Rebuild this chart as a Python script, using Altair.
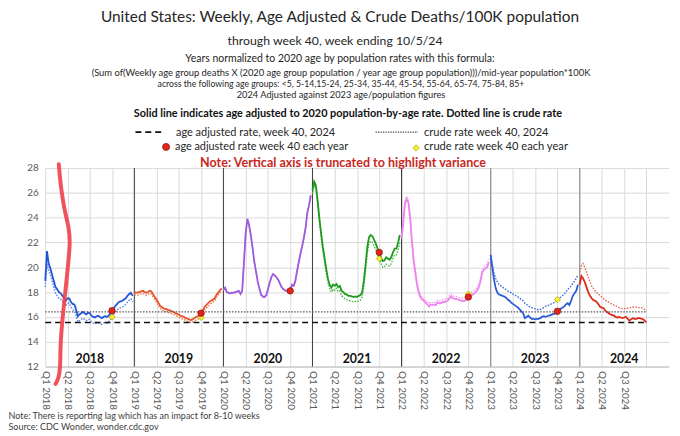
import altair as alt
import pandas as pd

FONT = "Lato"

years = [2018, 2019, 2020, 2021, 2022, 2023, 2024]
colors_adj = ["#1F56D8", "#E8542A", "#9D5BDB", "#1E9A1E", "#EE82EE", "#2A5BD7", "#DD2A1A"]
colors_crude = ["#5A82E6", "#EE7A55", "#B285E6", "#4DB84D", "#F2A0F2", "#3E6CE0", "#E86A5E"]

adj_2018 = [18.9, 21.3, 20.3, 19.9, 19.4, 18.9, 18.4, 18.2, 18.0, 17.9, 17.7, 17.5, 17.3, 17.5, 17.5, 17.2,
            17.05, 17.0, 16.6, 16.05, 16.2, 16.3, 16.4, 16.3, 16.2, 16.35, 16.3, 16.1, 16.0, 15.95, 16.05, 16.1,
            16.0, 15.9, 16.0, 16.05, 16.0, 16.1, 16.3, 16.5, 16.7, 16.9, 17.05, 17.2, 17.25, 17.3, 17.4, 17.5,
            17.7, 17.85, 17.95, 17.7]
crude_2018 = [18.4, 20.3, 19.7, 19.4, 18.9, 18.4, 17.9, 17.7, 17.5, 17.4, 17.3, 17.1, 16.9, 17.1, 17.1, 16.8,
              16.6, 16.5, 16.1, 15.6, 15.7, 15.8, 15.9, 15.8, 15.7, 15.8, 15.8, 15.6, 15.5, 15.45, 15.5, 15.55,
              15.45, 15.4, 15.5, 15.55, 15.5, 15.6, 15.8, 16.0, 16.2, 16.4, 16.55, 16.7, 16.75, 16.8, 16.9, 17.0,
              17.2, 17.35, 17.45, 17.2]
adj_2019 = [18.0, 17.95, 17.95, 18.0, 18.05, 18.1, 18.0, 17.95, 18.0, 18.1, 18.05, 17.8, 17.6, 17.4, 17.15, 16.9,
            16.8, 16.7, 16.65, 16.6, 16.55, 16.5, 16.45, 16.4, 16.3, 16.25, 16.2, 16.1, 16.05, 16.0, 15.9, 15.85,
            15.8, 15.75, 15.8, 15.9, 16.0, 16.05, 16.15, 16.3, 16.55, 16.8, 16.95, 17.1, 17.25, 17.3, 17.4, 17.5,
            17.8, 17.95, 18.15, 18.3]
crude_2019 = [17.8, 17.75, 17.75, 17.8, 17.85, 17.9, 17.8, 17.75, 17.8, 17.9, 17.85, 17.6, 17.4, 17.2, 16.95, 16.7,
              16.6, 16.5, 16.45, 16.4, 16.35, 16.3, 16.25, 16.2, 16.1, 16.05, 16.0, 15.9, 15.85, 15.8, 15.7, 15.65,
              15.6, 15.55, 15.6, 15.65, 15.75, 15.8, 15.9, 15.95, 16.3, 16.55, 16.7, 16.85, 17.0, 17.1, 17.2, 17.3,
              17.6, 17.75, 17.95, 18.1]
adj_2020 = [18.2, 18.35, 18.0, 17.95, 17.9, 17.95, 17.95, 18.0, 18.05, 18.1, 17.85, 18.1, 20.4, 22.7, 23.9, 23.4,
            22.6, 21.6, 20.5, 19.7, 18.9, 18.3, 17.8, 17.65, 17.6, 17.75, 18.2, 18.75, 19.2, 19.45, 19.35, 19.2,
            19.0, 18.7, 18.4, 18.25, 18.15, 18.1, 18.1, 18.1, 18.6, 18.5, 18.9, 19.7, 20.4, 21.1, 21.7, 22.4,
            23.2, 24.4, 25.0, 25.8]
crude_2020 = [18.15, 18.3, 17.95, 17.9, 17.85, 17.9, 17.9, 17.95, 18.0, 18.05, 17.8, 18.05, 20.35, 22.65, 23.85, 23.35,
              22.55, 21.55, 20.45, 19.65, 18.85, 18.25, 17.75, 17.6, 17.55, 17.7, 18.15, 18.7, 19.15, 19.4, 19.3, 19.15,
              18.95, 18.65, 18.35, 18.2, 18.1, 18.05, 18.05, 18.05, 18.55, 18.45, 18.85, 19.65, 20.35, 21.05, 21.65, 22.35,
              23.15, 24.35, 24.95, 25.75]
adj_2021 = [26.2, 26.9, 26.6, 25.4, 24.0, 22.8, 21.7, 20.8, 19.9, 19.1, 18.6, 18.35, 18.6, 18.5, 18.65, 18.4,
            18.5, 18.1, 18.0, 17.85, 17.8, 17.7, 17.7, 17.65, 17.6, 17.65, 17.6, 17.7, 17.75, 18.0, 18.9, 20.2,
            21.6, 22.4, 22.6, 22.5, 22.2, 21.9, 21.5, 21.2, 20.8, 20.5, 20.55, 20.8, 20.7, 20.6, 20.8, 21.2,
            21.5, 21.5, 22.0, 22.6]
crude_2021 = [25.9, 26.6, 26.3, 25.1, 23.7, 22.5, 21.4, 20.5, 19.6, 18.8, 18.3, 18.0, 18.25, 18.15, 18.3, 18.05,
              18.1, 17.7, 17.6, 17.45, 17.4, 17.3, 17.3, 17.25, 17.2, 17.25, 17.2, 17.3, 17.35, 17.6, 18.4, 19.7,
              21.1, 21.9, 22.1, 22.0, 21.7, 21.4, 21.0, 20.7, 20.3, 20.0, 20.0, 20.25, 20.15, 20.1, 20.3, 20.7,
              21.0, 21.0, 21.4, 22.0]
adj_2022 = [22.3, 23.6, 25.1, 25.5, 25.2, 24.0, 22.2, 20.6, 19.6, 18.6, 18.0, 17.6, 17.4, 17.3, 17.15, 17.0,
            16.85, 17.0, 16.95, 17.0, 16.95, 17.15, 17.1, 17.1, 17.2, 17.2, 17.25, 17.3, 17.5, 17.65, 17.5, 17.45,
            17.45, 17.4, 17.35, 17.3, 17.3, 17.3, 17.4, 17.6, 17.7, 17.75, 17.85, 17.95, 18.1, 18.35, 18.8, 19.5,
            19.8, 19.9, 20.0, 20.4]
crude_2022 = [22.4, 23.8, 25.3, 25.7, 25.4, 24.2, 22.4, 20.8, 19.8, 18.8, 18.2, 17.8, 17.6, 17.5, 17.35, 17.2,
              17.05, 17.2, 17.15, 17.2, 17.15, 17.35, 17.3, 17.3, 17.4, 17.4, 17.45, 17.5, 17.7, 17.85, 17.7, 17.65,
              17.65, 17.6, 17.55, 17.5, 17.5, 17.55, 17.65, 17.85, 17.95, 18.0, 18.1, 18.2, 18.35, 18.6, 19.05, 19.75,
              20.05, 20.15, 20.25, 20.65]
adj_2023 = [21.0, 20.0, 19.0, 18.3, 17.95, 17.8, 17.75, 17.7, 17.65, 17.55, 17.4, 17.3, 17.15, 17.05, 16.95, 16.85,
            16.75, 16.6, 16.45, 16.3, 15.9, 16.0, 16.1, 15.95, 15.85, 15.85, 15.8, 15.85, 15.85, 15.9, 16.0, 16.05,
            16.0, 16.05, 16.1, 16.15, 16.2, 16.25, 16.3, 16.45, 16.55, 16.65, 16.75, 16.85, 17.0, 17.1, 16.95, 17.3,
            17.7, 17.9, 18.1, 18.6]
crude_2023 = [21.0, 20.2, 19.5, 19.1, 18.8, 18.6, 18.5, 18.4, 18.3, 18.2, 18.1, 18.0, 17.95, 17.85, 17.75, 17.7,
              17.6, 17.5, 17.4, 17.3, 17.1, 17.0, 16.9, 16.8, 16.75, 16.7, 16.65, 16.6, 16.58, 16.6, 16.65, 16.75,
              16.85, 16.9, 16.95, 17.0, 17.1, 17.15, 17.2, 17.4, 17.5, 17.6, 17.7, 17.85, 18.0, 18.2, 18.35, 18.5,
              18.7, 18.9, 19.1, 19.4]
adj_2024 = [18.6, 19.3, 19.1, 18.8, 18.4, 18.0, 17.7, 17.5, 17.35, 17.3, 17.2, 17.0, 16.8, 16.75, 16.7, 16.5,
            16.4, 16.3, 16.2, 16.15, 16.1, 16.0, 15.95, 16.0, 15.95, 15.9, 15.95, 16.0, 15.85, 15.7, 15.8, 15.9,
            15.85, 15.85, 15.9, 15.9, 15.85, 15.8, 15.7, 15.55]
crude_2024 = [19.6, 20.1, 20.3, 20.0, 19.6, 19.2, 18.85, 18.5, 18.3, 18.1, 17.95, 17.85, 17.7, 17.6, 17.45, 17.35,
              17.25, 17.2, 17.1, 17.0, 16.95, 16.9, 16.8, 16.75, 16.7, 16.65, 16.65, 16.7, 16.7, 16.75, 16.75, 16.8,
              16.8, 16.8, 16.75, 16.75, 16.75, 16.7, 16.6, 16.45]

adj_series = [adj_2018, adj_2019, adj_2020, adj_2021, adj_2022, adj_2023, adj_2024]
crude_series = [crude_2018, crude_2019, crude_2020, crude_2021, crude_2022, crude_2023, crude_2024]

# week-40 markers
marker_years = [2018, 2019, 2020, 2021, 2022, 2023]
marker_adj = [16.5, 16.3, 18.1, 21.2, 17.6, 16.45]
marker_crude = [16.0, 15.95, 18.05, 20.7, 17.85, 17.4]

# reference lines (week 40, 2024)
ref_adj_2024 = 15.55
ref_crude_2024 = 16.4

# hand-drawn red annotation stroke (week index, value)
scribble_week = [7.9, 8.7, 10.2, 12.1, 13.6, 14.6, 13.6, 12.1, 10.6, 9.2, 8.8, 8.8, 7.9, 6.0]
scribble_value = [28.3, 27.0, 25.4, 24.1, 23.3, 22.1, 20.6, 18.5, 16.6, 14.5, 13.2, 12.0, 11.05, 10.6]

quarters = ["Q1", "Q2", "Q3", "Q4"]
quarter_labels = [f"{q} {y}" for y in years for q in quarters][:27]

# ---------- tables ----------
rows = []
for k, y in enumerate(years):
    for i, v in enumerate(adj_series[k]):
        rows.append({"week": 52 * k + i, "value": v, "series": f"{y} adj"})
    for i, v in enumerate(crude_series[k]):
        rows.append({"week": 52 * k + i, "value": v, "series": f"{y} crude"})
df = pd.DataFrame(rows)
adj_df = df[df.series.str.endswith("adj")]
crude_df = df[df.series.str.endswith("crude")]

series_domain = [f"{y} adj" for y in years] + [f"{y} crude" for y in years]
series_range = colors_adj + colors_crude

marker_df = pd.DataFrame({
    "week": [52 * (y - 2018) + 39 for y in marker_years],
    "adj": marker_adj,
    "crude": marker_crude,
})
year_df = pd.DataFrame({"week": [52 * k + 26 for k in range(len(years))],
                        "label": [str(y) for y in years]})
sep_dark_df = pd.DataFrame({"week": [52 * k for k in range(1, 5)]})
sep_gray_df = pd.DataFrame({"week": [52 * k for k in range(5, 7)]})
ref_df = pd.DataFrame({"value": [ref_adj_2024, ref_crude_2024], "kind": ["adj", "crude"],
                       "x0": [0, 0], "x1": [52 * 6 + 39, 52 * 6 + 39]})
scr_df = pd.DataFrame({"week": scribble_week, "value": scribble_value,
                       "i": list(range(len(scribble_week)))})

tick_vals = [13 * j for j in range(28)]
label_js = "[" + ",".join(f"'{s}'" for s in quarter_labels) + "]"

xscale = alt.Scale(domain=[0, 364], nice=False, zero=False)
yscale = alt.Scale(domain=[12, 28], nice=False, zero=False)
xaxis = alt.Axis(values=tick_vals, labelExpr=f"datum.value/13 < 26.5 ? {label_js}[round(datum.value/13)] : ''",
                 labelAngle=90, labelAlign="left", labelBaseline="middle", labelPadding=4,
                 labelFontSize=10, labelColor="#595959", labelFont=FONT, labelOverlap=False,
                 labelFlush=False, grid=True, gridColor="#D9D9D9", gridWidth=1,
                 domainColor="#BFBFBF", ticks=False, title=None)
yaxis = alt.Axis(values=list(range(12, 29, 2)), labelFontSize=10, labelColor="#595959",
                 labelFont=FONT, labelPadding=7, grid=True, gridColor="#D9D9D9", gridWidth=1,
                 domain=False, ticks=False, title=None, labelOverlap=False)


def X(field):
    return alt.X(field, scale=xscale, axis=xaxis)


def Y(field):
    return alt.Y(field, scale=yscale, axis=yaxis)


color = alt.Color("series:N", scale=alt.Scale(domain=series_domain, range=series_range), legend=None)

sep_dark = alt.Chart(sep_dark_df).mark_rule(strokeWidth=1, color="#3A3A3A").encode(x=X("week:Q"))
sep_gray = alt.Chart(sep_gray_df).mark_rule(strokeWidth=1, color="#8A8A8A").encode(x=X("week:Q"))

crude_lines = alt.Chart(crude_df).mark_line(strokeWidth=1.4, strokeDash=[1.6, 1.4]).encode(
    x=X("week:Q"), y=Y("value:Q"), color=color, detail="series:N")
adj_lines = alt.Chart(adj_df).mark_line(strokeWidth=1.8).encode(
    x=X("week:Q"), y=Y("value:Q"), color=color, detail="series:N")

ref_adj = alt.Chart(ref_df[ref_df.kind == "adj"]).mark_rule(color="#111111", strokeWidth=1.6,
                                                            strokeDash=[6, 4]).encode(
    x=X("x0:Q"), x2="x1:Q", y=Y("value:Q"))
ref_crude = alt.Chart(ref_df[ref_df.kind == "crude"]).mark_rule(color="#555555", strokeWidth=1.3,
                                                                strokeDash=[1.5, 1.5]).encode(
    x=X("x0:Q"), x2="x1:Q", y=Y("value:Q"))

crude_pts = alt.Chart(marker_df).mark_point(shape="diamond", filled=True, size=38, fill="#F5F032",
                                            stroke="#B8A800", strokeWidth=0.8, opacity=1).encode(
    x=X("week:Q"), y=Y("crude:Q"))
adj_pts = alt.Chart(marker_df).mark_point(shape="circle", filled=True, size=42, fill="#E0261C",
                                          stroke="#9A1410", strokeWidth=0.8, opacity=1).encode(
    x=X("week:Q"), y=Y("adj:Q"))

year_txt = alt.Chart(year_df).mark_text(font=FONT, fontSize=12.5, fontWeight="bold", color="#111111",
                                        baseline="bottom", dy=-1).encode(
    x=X("week:Q"), y=alt.YDatum(12, scale=yscale, axis=yaxis), text="label:N")

scribble = alt.Chart(scr_df).mark_line(color="#F0404A", strokeWidth=4, opacity=0.9, strokeCap="round",
                                       strokeJoin="round", interpolate="basis").encode(
    x=X("week:Q"), y=Y("value:Q"), order="i:Q")

OX, OY = 45.7, 167.3
one = alt.Data(values=[{}])


def txt(s, px, py, size, weight="normal", color="#262626", align="center"):
    return alt.Chart(one).mark_text(text=s, font=FONT, fontSize=size, fontWeight=weight, color=color,
                                    align=align, baseline="alphabetic").encode(
        x=alt.value(px - OX), y=alt.value(py - OY))


texts = [
    txt("United States: Weekly, Age Adjusted & Crude Deaths/100K population", 344, 20, 15.6),
    txt("through week 40, week ending 10/5/24", 339, 42.5, 12.4),
    txt("Years normalized to 2020 age by population rates with this formula:", 344, 60.5, 10.6),
    txt("(Sum of(Weekly age group deaths X (2020 age group population / year age group population)))/mid-year population*100K",
        345, 74, 9.5),
    txt("across the following age groups: <5, 5-14,15-24, 25-34, 35-44, 45-54, 55-64, 65-74, 75-84, 85+",
        345, 85.5, 8.8),
    txt("2024 Adjusted against 2023 age/population figures", 345, 97, 9.4),
    txt("Solid line indicates age adjusted to 2020 population-by-age rate. Dotted line is crude rate",
        352, 116, 11, weight="bold", color="#111111"),
    txt("age adjusted rate, week 40, 2024", 178, 135, 11.1, align="left"),
    txt("crude rate week 40, 2024", 429, 135, 11.2, align="left"),
    txt("age adjusted rate week 40 each year", 177, 149.5, 11, align="left"),
    txt("crude rate week 40 each year", 429, 149.5, 11.3, align="left"),
    txt("Note: Vertical axis is truncated to highlight variance", 347, 166, 12.7, weight="bold",
        color="#C8281E"),
    txt("Note: There is reporting lag which has an impact for 8-10 weeks", 8.5, 421, 9.1, align="left",
        color="#404040"),
    txt("Source: CDC Wonder, wonder.cdc.gov", 8.5, 432, 9.1, align="left", color="#404040"),
]

leg_dash = alt.Chart(one).mark_rule(color="#111111", strokeWidth=1.8, strokeDash=[6, 4]).encode(
    x=alt.value(137 - OX), x2=alt.value(166 - OX), y=alt.value(131 - OY))
leg_dot = alt.Chart(one).mark_rule(color="#444444", strokeWidth=1.3, strokeDash=[1.3, 1.2]).encode(
    x=alt.value(380 - OX), x2=alt.value(423 - OX), y=alt.value(131 - OY))
leg_circle = alt.Chart(one).mark_point(shape="circle", filled=True, size=50, fill="#E0261C",
                                       stroke="#9A1410", strokeWidth=0.8, opacity=1).encode(
    x=alt.value(168 - OX), y=alt.value(146 - OY))
leg_diamond = alt.Chart(one).mark_point(shape="diamond", filled=True, size=40, fill="#F5F032",
                                        stroke="#B8A800", strokeWidth=0.8, opacity=1).encode(
    x=alt.value(421 - OX), y=alt.value(147 - OY))

chart = alt.layer(
    sep_dark, sep_gray, crude_lines, adj_lines, ref_crude, ref_adj, crude_pts, adj_pts, year_txt, scribble,
    leg_dash, leg_dot, leg_circle, leg_diamond, *texts
).properties(
    width=631, height=201,
    autosize=alt.AutoSizeParams(type="none"),
    padding={"left": OX - 8, "top": OY - 8, "right": 3.3, "bottom": 68},
    background="white",
).configure_view(stroke=None)

chart.save("out.html", embed_options={"renderer": "svg", "actions": False})
